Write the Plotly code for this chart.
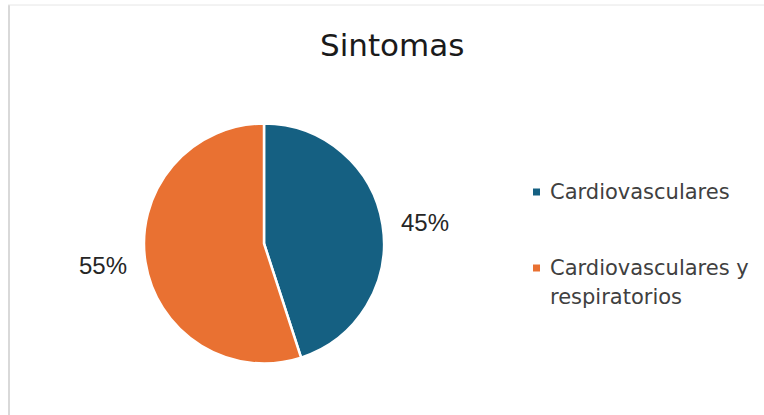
import math
import plotly.graph_objects as go

# Chart data
categories = ["Cardiovasculares", "Cardiovasculares y respiratorios"]
legend_lines = [["Cardiovasculares"], ["Cardiovasculares y", "respiratorios"]]
values = [45, 55]
colors = ["#156082", "#E97132"]

W, H = 764, 415
cx, cy, R = 264, 243, 120  # pie centre and radius in pixels


def px(x):
    return x / W


def py(y):
    return 1 - y / H


fig = go.Figure(
    go.Pie(
        labels=categories,
        values=values,
        sort=False,
        direction="clockwise",
        rotation=0,
        marker=dict(colors=colors, line=dict(color="white", width=2.5)),
        textinfo="none",
        hoverinfo="label+percent",
        showlegend=False,
        domain=dict(x=[px(cx - R), px(cx + R)], y=[py(cy + R + 1), py(cy - R)]),
    )
)

annotations = []

# Percentage labels placed outside each slice along its mid-angle
total = sum(values)
start = 0.0
for v in values:
    mid = (start + v / 2) / total * 2 * math.pi
    start += v
    lx = cx + 163 * math.sin(mid)
    ly = cy - 140 * math.cos(mid) + 1
    annotations.append(dict(
        x=px(lx), y=py(ly), xref="paper", yref="paper",
        text=f"{round(v / total * 100)}%", showarrow=False,
        font=dict(family="Liberation Sans, Arial", size=24, color="#262626"),
        xanchor="center", yanchor="middle",
    ))

# Title
annotations.append(dict(
    x=px(392), y=py(45), xref="paper", yref="paper", text="Sintomas",
    showarrow=False, font=dict(family="DejaVu Sans", size=31, color="#1a1a1a"),
    xanchor="center", yanchor="middle",
))

# Legend drawn manually
shapes = []
leg_y = [192, 268]
for i, (lines, col) in enumerate(zip(legend_lines, colors)):
    y0 = leg_y[i]
    shapes.append(dict(type="rect", xref="paper", yref="paper",
                       x0=px(533), x1=px(540), y0=py(y0 - 3.5), y1=py(y0 + 3.5),
                       fillcolor=col, line=dict(width=0)))
    for j, line in enumerate(lines):
        annotations.append(dict(
            x=px(548), y=py(y0 + j * 29), xref="paper", yref="paper", text=line,
            showarrow=False, font=dict(family="DejaVu Sans", size=21, color="#404040"),
            xanchor="left", yanchor="middle",
        ))

# Chart frame (left and top edges)
shapes.append(dict(type="line", xref="paper", yref="paper",
                   x0=px(9), x1=px(9), y0=0, y1=py(5),
                   line=dict(color="#d9d9d9", width=2)))
shapes.append(dict(type="line", xref="paper", yref="paper",
                   x0=px(8), x1=1, y0=py(5), y1=py(5),
                   line=dict(color="#e6e6e6", width=1)))

fig.update_layout(
    width=W, height=H,
    margin=dict(l=0, r=0, t=0, b=0),
    paper_bgcolor="white", plot_bgcolor="white",
    annotations=annotations, shapes=shapes,
)

fig.write_html("out.html")
